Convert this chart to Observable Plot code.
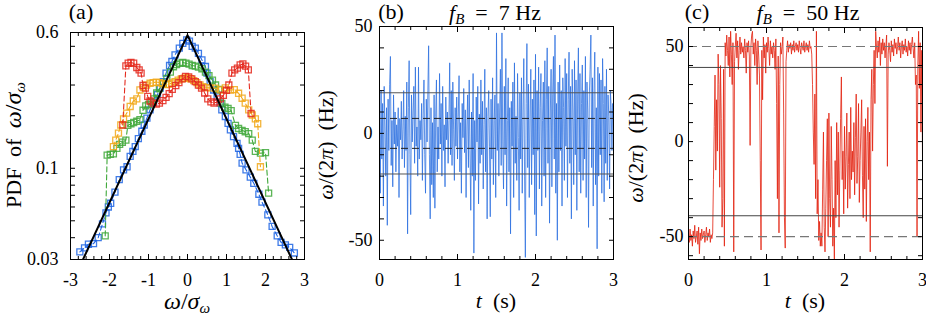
<!DOCTYPE html>
<html><head><meta charset="utf-8">
<script src="https://cdn.jsdelivr.net/npm/d3@7"></script>
<script src="https://cdn.jsdelivr.net/npm/@observablehq/plot@0.6"></script>
<style>
body{margin:0;background:#fff;}
#root{position:relative;width:926px;height:316px;font-family:"Liberation Serif",serif;color:#000;overflow:hidden;}
.p{position:absolute;top:0;}
.lbl{position:absolute;font-size:22px;line-height:20px;white-space:nowrap;}
.rot{transform:translate(-50%,-50%) rotate(-90deg);}
.ctr{transform:translate(-50%,-50%);}
.m{font-size:24px;}
.ws{word-spacing:5px;}
sub{font-size:15px;vertical-align:-4px;line-height:0;}
</style></head>
<body><div id="root"></div>
<script>
// ---------- Panel (a): PDF of omega/sigma ----------
const pdfBlue = [[-2.76,0.0332],[-2.64,0.035],[-2.54,0.0367],[-2.41,0.037],[-2.29,0.040],[-2.18,0.048],[-2.09,0.0555],[-2.03,0.06],[-1.97,0.063],[-1.86,0.073],[-1.75,0.086],[-1.64,0.098],[-1.55,0.102],[-1.47,0.117],[-1.4,0.125],[-1.34,0.133],[-1.26,0.148],[-1.17,0.163],[-1.11,0.177],[-1.04,0.194],[-0.96,0.216],[-0.87,0.239],[-0.77,0.264],[-0.70,0.288],[-0.62,0.314],[-0.55,0.351],[-0.46,0.388],[-0.40,0.409],[-0.32,0.447],[-0.21,0.488],[-0.12,0.52],[-0.02,0.544],[0.05,0.535],[0.12,0.5],[0.2,0.488],[0.28,0.456],[0.37,0.418],[0.46,0.383],[0.5,0.351],[0.58,0.314],[0.67,0.281],[0.76,0.257],[0.84,0.236],[0.88,0.216],[0.97,0.198],[1.04,0.181],[1.1,0.166],[1.18,0.152],[1.27,0.139],[1.31,0.13],[1.35,0.12],[1.4,0.107],[1.5,0.098],[1.61,0.089],[1.7,0.082],[1.83,0.071],[1.91,0.064],[2.06,0.054],[2.17,0.0464],[2.3,0.041],[2.4,0.0376],[2.51,0.0364],[2.62,0.0352],[2.74,0.0327]];
const pdfGreen = [[-2.11,0.041],[-2.06,0.119],[-1.98,0.12],[-1.9,0.121],[-1.81,0.13],[-1.74,0.137],[-1.67,0.141],[-1.58,0.145],[-1.53,0.176],[-1.45,0.18],[-1.38,0.183],[-1.3,0.186],[-1.22,0.19],[-1.14,0.215],[-1.07,0.228],[-1.0,0.232],[-0.93,0.24],[-0.86,0.25],[-0.79,0.27],[-0.72,0.286],[-0.62,0.306],[-0.53,0.327],[-0.44,0.356],[-0.36,0.382],[-0.28,0.393],[-0.2,0.4],[-0.12,0.404],[-0.04,0.4],[0.04,0.395],[0.12,0.388],[0.2,0.385],[0.28,0.38],[0.37,0.372],[0.46,0.356],[0.55,0.34],[0.64,0.32],[0.72,0.3],[0.8,0.283],[0.88,0.235],[0.96,0.224],[1.04,0.22],[1.12,0.214],[1.23,0.176],[1.31,0.169],[1.4,0.165],[1.48,0.162],[1.57,0.158],[1.66,0.145],[1.74,0.125],[1.87,0.122],[2.0,0.123],[2.08,0.072]];
const pdfOrange = [[-1.90,0.133],[-1.84,0.145],[-1.77,0.159],[-1.71,0.177],[-1.64,0.192],[-1.56,0.207],[-1.47,0.226],[-1.39,0.243],[-1.30,0.25],[-1.22,0.281],[-1.13,0.29],[-1.05,0.30],[-0.96,0.307],[-0.88,0.31],[-0.8,0.312],[-0.72,0.31],[-0.64,0.305],[-0.56,0.302],[-0.48,0.303],[-0.40,0.308],[-0.32,0.314],[-0.24,0.32],[-0.16,0.325],[-0.08,0.328],[0.0,0.33],[0.08,0.326],[0.16,0.318],[0.24,0.31],[0.32,0.3],[0.4,0.294],[0.48,0.29],[0.58,0.289],[0.71,0.288],[0.84,0.281],[0.97,0.289],[1.1,0.281],[1.2,0.282],[1.31,0.269],[1.4,0.252],[1.48,0.236],[1.57,0.216],[1.66,0.202],[1.74,0.192],[1.8,0.18],[1.87,0.102]];
const pdfRed = [[-1.66,0.177],[-1.58,0.386],[-1.52,0.400],[-1.45,0.404],[-1.38,0.400],[-1.30,0.378],[-1.24,0.366],[-1.19,0.351],[-1.14,0.298],[-1.08,0.288],[-1.02,0.258],[-0.96,0.243],[-0.88,0.236],[-0.8,0.233],[-0.72,0.236],[-0.63,0.244],[-0.55,0.255],[-0.47,0.268],[-0.39,0.283],[-0.3,0.298],[-0.22,0.31],[-0.13,0.325],[-0.05,0.336],[0.03,0.334],[0.11,0.325],[0.2,0.314],[0.28,0.3],[0.36,0.288],[0.44,0.27],[0.52,0.25],[0.6,0.24],[0.68,0.236],[0.76,0.24],[0.84,0.25],[0.92,0.262],[1.0,0.28],[1.06,0.30],[1.14,0.351],[1.21,0.366],[1.28,0.375],[1.35,0.391],[1.42,0.396],[1.49,0.385],[1.56,0.366],[1.63,0.206]];
const fitLine = [[-2.68,0.03],[0,0.58],[2.68,0.03]];
const seriesColors = {blue:"#1d64e3", green:"#3fa83a", orange:"#f1a81a", red:"#e4281c"};
const aXMajor = [-3,-2,-1,0,1,2,3];
const aYTicks = [0.03,0.04,0.05,0.06,0.07,0.08,0.09,0.1,0.2,0.3,0.4,0.5,0.6];
const aYLabels = ["0.03","0.1","0.6"];

// ---------- Panel (b): f_B = 7 Hz ----------
const dt = 0.01;
const omegaB = [
 8,-28,20,-12,14,-34,22,3,-20,12,
 -43,16,-8,23,36,-15,6,-25,18,-5,
 10,-18,4,-6,12,-30,7,-3,15,-12,
 2,20,-16,8,-8,24,-47,12,34,-10,
 -38,18,-4,10,22,-14,31,-6,3,-20,
 31,-12,6,-3,14,-22,9,25,-10,-28,
 16,-4,20,41,-10,-40,12,-24,5,-30,
 18,-35,8,25,-18,3,-12,28,-5,14,
 -20,22,-8,4,-25,17,-3,10,-14,6,
 33,-10,20,-15,24,2,-22,12,-6,17,
 -12,8,27,-18,5,-28,14,-2,21,-9,
 11,-30,3,18,-16,25,-8,-36,10,-20,
 28,-56,6,-22,17,-4,22,-33,9,-14,
 25,-10,15,-26,4,30,-18,12,-40,8,
 20,-6,-39,16,-12,26,-24,6,18,-30,
 47,-8,14,-20,10,30,-15,47,-5,-26,
 22,-10,35,-34,6,26,-18,12,-47,15,
 -6,24,-30,33,-14,8,-22,28,-2,-36,
 19,-12,26,-28,10,35,-20,-58,14,42,
 -16,23,-30,8,30,-24,16,-10,25,-38,
 37,-48,20,-8,31,-26,12,28,-34,6,
 24,-20,34,-30,16,40,-14,22,-42,10,
 30,-25,18,36,-12,46,-28,14,-50,24,
 -18,32,-8,20,-34,26,12,-22,35,-6,
 28,-30,16,38,-14,22,-40,30,10,-24,
 34,-10,25,-36,18,40,-18,28,-28,14,
 32,-22,20,-12,36,-30,24,10,-44,18,
 30,46,-16,26,-34,20,38,-24,12,-54,
 31,-20,28,-10,25,-28,35,14,-32,22,
 -14,30,-22,18,8,-26,20,12,-8,14,
 6];
const bSolid = [-19,19];
const bDashed = [-7,7];
const bYTicks = [-50,-40,-30,-20,-10,0,10,20,30,40,50];

// ---------- Panel (c): f_B = 50 Hz ----------
const omegaC = [
 -48,-53,-46,-52,-49,-55,-47,-51,-44,-53,
 -50,-47,-54,-45,-59,-48,-52,-46,-51,-49,
 -47,-53,-49,-45,-52,-48,-50,-46,-53,-49,
 -51,-48,-20,8,35,-15,22,-5,46,30,
 -24,40,12,-45,-30,38,-55,52,45,56,
 48,40,55,34,58,46,30,52,-58,42,
 50,57,44,53,38,48,55,46,52,47,
 50,44,54,48,36,52,47,53,45,-2,
 50,56,58,46,52,40,54,48,30,53,
 45,35,-10,-57,48,22,55,44,51,36,
 52,47,55,49,40,53,46,50,44,52,
 48,38,54,20,-30,45,-48,30,52,46,
 50,55,15,-40,-56,42,48,53,47,51,
 49,52,46,51,48,53,47,50,52,48,
 51,47,53,49,46,52,50,48,53,47,
 50,52,48,51,47,53,49,50,46,30,
 5,-12,25,-30,58,-38,-20,-52,-42,-55,
 -48,-55,-25,5,-45,-58,-35,-10,12,-50,
 15,-30,-45,8,-20,-55,-35,-62,-10,-40,
 10,-28,5,-45,-15,12,34,-20,-5,-38,
 8,-25,-8,15,-35,-12,5,-30,18,-20,
 -5,-16,10,-28,2,25,-22,-8,20,-32,
 -10,5,22,-18,-40,8,-25,12,-42,0,
 18,-20,5,-58,22,38,-5,30,48,20,
 58,50,44,53,47,55,40,52,46,54,
 48,52,44,50,56,-13,46,52,48,42,
 53,47,51,45,54,49,52,46,50,55,
 48,52,44,50,53,46,51,48,54,47,
 50,45,53,48,52,46,51,55,49,44,
 52,30,35,-50,40,58,28,52,5,48,
 -8];
const cSolid = [-39,39];
const cDashed = [-50,50];
const cYTicks = [-60,-50,-40,-30,-20,-10,0,10,20,30,40,50,60];
const tMajor = [0,1,2,3];
const yLabelsBC = [-50,0,50];

// ---------- helpers ----------
const FONT = "Liberation Serif";
function minorBetween(major, step){
  const out=[];
  for(let i=0;i<major.length-1;i++){
    for(let k=1;k*step<major[i+1]-major[i]-1e-9;k++) out.push(+(major[i]+k*step).toFixed(4));
  }
  return out;
}
function frameAxes({xMajor, xMinor, yTicks}){
  return [
    Plot.frame({stroke:"black", strokeWidth:1}),
    Plot.axisX(xMajor, {anchor:"bottom", tickSize:-5, tickPadding:19, tickFormat:d=>String(d), label:null}),
    Plot.axisX(xMajor, {anchor:"top", tickSize:-5, tickFormat:()=>"", label:null}),
    Plot.axisX(xMinor, {anchor:"bottom", tickSize:-3, tickFormat:()=>"", label:null}),
    Plot.axisX(xMinor, {anchor:"top", tickSize:-3, tickFormat:()=>"", label:null}),
    Plot.axisY(yTicks, {anchor:"left", tickSize:-5, tickFormat:()=>"", label:null}),
    Plot.axisY(yTicks, {anchor:"right", tickSize:-5, tickFormat:()=>"", label:null})
  ];
}
// y tick labels drawn as text through the y scale, at the left frame edge
const yLabelMarks = (labels, gap) => Plot.text(labels, {
  y: d => +d, text: d => String(d), frameAnchor: "left", textAnchor: "end", dx: -gap, fontSize: 18
});
const style = {fontFamily:FONT, fontSize:"18px", background:"white", color:"black", overflow:"visible"};

// Panel a
const sq = (data, color) => [
  Plot.line(data, {x:d=>d[0], y:d=>d[1], stroke:color, strokeWidth:1.1, strokeDasharray:"5,3"}),
  Plot.dot(data, {x:d=>d[0], y:d=>d[1], symbol:"square", r:3.4, stroke:color, strokeWidth:1.3, strokeOpacity:0.85, fill:"none"})
];
const plotA = Plot.plot({
  width:310, height:316, marginLeft:70, marginRight:6, marginTop:32, marginBottom:57,
  style,
  x:{domain:[-3,3], label:null},
  y:{type:"log", domain:[0.03,0.6], label:null},
  marks:[
    ...sq(pdfBlue, seriesColors.blue),
    ...sq(pdfGreen, seriesColors.green),
    ...sq(pdfOrange, seriesColors.orange),
    ...sq(pdfRed, seriesColors.red),
    Plot.line(fitLine, {x:d=>d[0], y:d=>d[1], stroke:"black", strokeWidth:2, clip:true}),
    ...frameAxes({xMajor:aXMajor, xMinor:minorBetween(aXMajor,0.2), yTicks:aYTicks}),
    yLabelMarks(aYLabels, 12)
  ]
});

// Panel b
const plotB = Plot.plot({
  width:310, height:316, marginLeft:69, marginRight:7, marginTop:26, marginBottom:57,
  style,
  x:{domain:[0,3], label:null},
  y:{domain:[-59,50], label:null},
  marks:[
    Plot.line(omegaB, {x:(d,i)=>i*dt, y:d=>d, stroke:"#2a6ee0", strokeOpacity:0.85, strokeWidth:0.9, clip:true}),
    Plot.ruleY(bSolid, {stroke:"#555", strokeWidth:1}),
    Plot.ruleY(bDashed, {stroke:"#222", strokeWidth:1, strokeDasharray:"7,4"}),
    ...frameAxes({xMajor:tMajor, xMinor:minorBetween(tMajor,0.2), yTicks:bYTicks}),
    yLabelMarks(yLabelsBC, 7)
  ]
});

// Panel c
const plotC = Plot.plot({
  width:306, height:316, marginLeft:68, marginRight:4, marginTop:27, marginBottom:57,
  style,
  x:{domain:[0,3], label:null},
  y:{domain:[-62,60], label:null},
  marks:[
    Plot.line(omegaC, {x:(d,i)=>i*dt, y:d=>d, stroke:"#e2220f", strokeOpacity:0.9, strokeWidth:0.9, clip:true}),
    Plot.ruleY(cSolid, {stroke:"#444", strokeWidth:1}),
    Plot.ruleY(cDashed, {stroke:"#777", strokeWidth:1.2, strokeDasharray:"9,5"}),
    ...frameAxes({xMajor:tMajor, xMinor:minorBetween(tMajor,0.2), yTicks:cYTicks}),
    yLabelMarks(yLabelsBC, 5)
  ]
});

const root = document.getElementById("root");
[[plotA,0],[plotB,310],[plotC,620]].forEach(([p,left])=>{
  p.classList.add("p"); p.style.left = left+"px"; root.appendChild(p);
});

const labels = [
  {html:"(a)", x:81, y:12, cls:"ctr"},
  {html:"(b)", x:391, y:12, cls:"ctr"},
  {html:"(c)", x:697, y:12, cls:"ctr"},
  {html:"<i>f</i><sub><i>B</i></sub>&ensp;=&ensp;7 Hz", x:495, y:13, cls:"ctr"},
  {html:"<i>f</i><sub><i>B</i></sub>&ensp;=&ensp;50 Hz", x:808, y:13, cls:"ctr"},
  {html:"PDF of <span class='m'><i>ω</i>/<i>σ</i><sub><i>ω</i></sub></span>", x:13, y:145, cls:"rot ws"},
  {html:"<i>ω</i>/(2<i>π</i>)&nbsp;&nbsp;(Hz)", x:326, y:145, cls:"rot"},
  {html:"<i>ω</i>/(2<i>π</i>)&nbsp;&nbsp;(Hz)", x:636, y:148, cls:"rot"},
  {html:"<span class='m'><i>ω</i>/<i>σ</i><sub><i>ω</i></sub></span>", x:187, y:301, cls:"ctr"},
  {html:"<i>t</i>&nbsp;&nbsp;(s)", x:496, y:301, cls:"ctr"},
  {html:"<i>t</i>&nbsp;&nbsp;(s)", x:805, y:301, cls:"ctr"}
];
labels.forEach(l=>{
  const d=document.createElement("div");
  d.className="lbl "+l.cls; d.innerHTML=l.html;
  d.style.left=l.x+"px"; d.style.top=l.y+"px";
  root.appendChild(d);
});
</script>
</body></html>
